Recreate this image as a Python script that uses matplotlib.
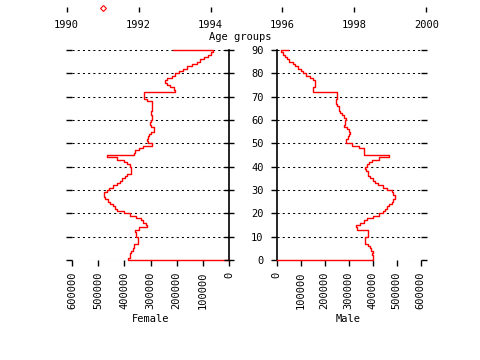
import numpy as np
import matplotlib
matplotlib.use("Agg")
import matplotlib.pyplot as plt

# age groups 0..90, population in thousands
ages = np.arange(0, 91)
female = [387, 379, 379, 374, 368, 364, 364, 349, 349, 349,
          357, 357, 360, 345, 315, 319, 329, 338, 357, 379,
          402, 427, 434, 442, 453, 463, 473, 476, 476, 468,
          459, 442, 427, 418, 408, 399, 389, 376, 374, 374,
          379, 389, 402, 427, 465, 364, 360, 345, 330, 296,
          310, 313, 309, 304, 297, 287, 287, 297, 303, 300,
          293, 293, 297, 297, 296, 296, 296, 296, 313, 326,
          326, 326, 205, 210, 224, 236, 243, 236, 217, 208,
          192, 175, 160, 141, 122, 109, 94, 81, 67, 62,
          215]
male = [404, 401, 397, 403, 394, 390, 383, 369, 369, 369,
        380, 380, 380, 334, 331, 348, 365, 376, 403, 428,
        445, 452, 459, 470, 480, 487, 494, 494, 487, 480,
        459, 445, 424, 410, 401, 390, 383, 380, 373, 369,
        376, 387, 397, 428, 470, 366, 366, 363, 345, 315,
        290, 290, 298, 303, 308, 301, 294, 280, 284, 284,
        291, 283, 273, 266, 259, 259, 252, 249, 249, 252,
        252, 252, 151, 151, 159, 162, 159, 151, 139, 122,
        111, 101, 89, 78, 67, 53, 43, 36, 28, 18,
        47]
age_ticks = list(range(0, 91, 10))
pop_ticks = list(range(0, 600001, 100000))
year_ticks = list(range(1990, 2001, 2))
marker_year = [1991]

plt.rcParams["font.family"] = ["DejaVu Sans Mono"]
plt.rcParams["font.size"] = 7.5

W, H = 480, 360
fig = plt.figure(figsize=(4.8, 3.6), dpi=100)


def box(x0, y0, x1, y1):
    return [x0 / W, 1 - y1 / H, (x1 - x0) / W, (y1 - y0) / H]


def step_path(vals):
    # horizontal at each age, vertical up to the next one
    px, py = [0], [0]
    for i, v in enumerate(vals):
        v = v * 1000
        px.append(v)
        py.append(ages[i])
        if i < len(vals) - 1:
            px.append(v)
            py.append(ages[i] + 1)
    return px, py


grid_style = dict(color="black", linewidth=0.75, linestyle=(0, (2.0, 3.0)))

axL = fig.add_axes(box(72, 50, 229, 260))
axR = fig.add_axes(box(276.5, 50, 420.5, 260))

for ax in (axL, axR):
    ax.set_ylim(0, 90)
    ax.set_yticks(age_ticks)
    ax.set_xticks(pop_ticks)
    ax.set_xticklabels([str(p) for p in pop_ticks], rotation=90)
    ax.yaxis.grid(True, **grid_style)
    ax.tick_params(axis="x", direction="out", length=4.3, width=1.0, pad=4)
    for s in ("top", "bottom"):
        ax.spines[s].set_visible(False)

axL.set_xlim(600000, 0)
axR.set_xlim(0, 600000)

px, py = step_path(female)
axL.plot(px, py, color="red", linewidth=1.0, clip_on=False, zorder=3)
px, py = step_path(male)
axR.plot(px, py, color="red", linewidth=1.0, clip_on=False, zorder=3)

# left panel: outer ticks on the left, spine with crossing ticks on the right
axL.spines["left"].set_visible(False)
axL.spines["right"].set_linewidth(1.2)
axL.tick_params(axis="y", left=True, right=False, labelleft=False,
                direction="out", length=4.3, width=1.0)
axL2 = axL.twinx()
axL2.set_ylim(0, 90)
axL2.set_yticks(age_ticks)
axL2.tick_params(axis="y", direction="inout", length=7.5, width=1.0,
                 labelright=False)
for s in axL2.spines.values():
    s.set_visible(False)

# right panel: spine on the left with labels, outer ticks on the right
axR.spines["right"].set_visible(False)
axR.spines["left"].set_linewidth(1.2)
axR.tick_params(axis="y", left=True, right=True, labelleft=True,
                labelright=False, direction="out", length=4.3, width=1.0, pad=5)

# year axis on top
axT = fig.add_axes(box(66.7, 7, 426.3, 12))
axT.set_xlim(1990, 2000)
axT.set_ylim(0, 1)
axT.set_xticks(year_ticks)
axT.set_yticks([])
axT.tick_params(axis="x", direction="in", length=3.6, width=1.0, pad=6)
for s in axT.spines.values():
    s.set_visible(False)
axT.patch.set_visible(False)
axT.plot(marker_year, [0.8] * len(marker_year), linestyle="none", marker="D",
         markersize=3, markerfacecolor="none", markeredgecolor="red",
         markeredgewidth=0.8, clip_on=False)

fig.text(0.5, 1 - 37 / H, "Age groups", ha="center", va="center")
fig.text(150.5 / W, 1 - 319 / H, "Female", ha="center", va="center")
fig.text(348.5 / W, 1 - 319 / H, "Male", ha="center", va="center")

fig.savefig("out.png", dpi=100)
